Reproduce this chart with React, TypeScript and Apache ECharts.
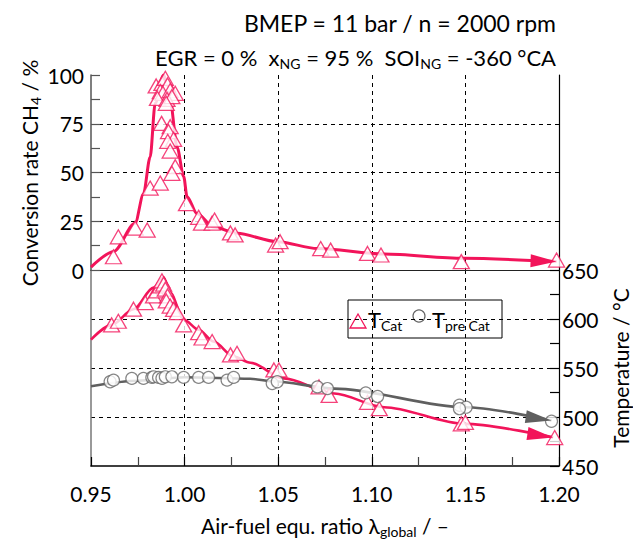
import React, { useEffect, useRef } from 'react';
import * as echarts from 'echarts';

const RED = '#f2145a';
const GREY = '#5f5f5f';
const FONT = 'Lato';

// x-axis ticks
const lambdaTicks = ['0.95', '1.00', '1.05', '1.10', '1.15', '1.20'];

// CH4 conversion rate, measured points
const convLambda = [0.962, 0.9646, 0.9736, 0.98, 0.9816, 0.987, 0.9848, 0.9879, 0.9897, 0.9909, 0.987, 0.9884, 0.9923, 0.995, 0.9855, 0.9906, 0.9932, 0.9902, 0.9877, 0.9923, 0.9914, 0.9941, 0.991, 0.9923, 0.995, 0.9932, 1.001, 1.0075, 1.009, 1.0147, 1.016, 1.0245, 1.027, 1.0486, 1.051, 1.0727, 1.078, 1.0977, 1.1049, 1.1478, 1.1987];
const convValue = [6.8, 17, 21.5, 20.5, 42, 44.6, 94.4, 95.7, 98.3, 94.9, 91.5, 90.6, 92, 90.6, 88, 87.5, 88.9, 85.5, 75.2, 73.5, 71, 67, 66, 61, 53, 49.6, 34, 27, 24, 24, 25.6, 19, 18, 12.8, 14.5, 11, 10.2, 8.5, 7.7, 4.3, 5.1];

// CH4 conversion rate, trend curve
const convFitLambda = [0.95, 0.962, 0.9736, 0.978, 0.9816, 0.9843, 0.9888, 0.9923, 0.996, 0.9995, 1.0013, 1.0066, 1.0155, 1.028, 1.0495, 1.071, 1.1065, 1.149, 1.1987];
const convFitValue = [1.5, 9.4, 24, 39, 58, 85.5, 100, 87, 63, 48, 37.6, 29, 22, 18.8, 14.5, 11, 8.2, 6, 4.3];

// T_Cat measured points
const tCatLambda = [0.961, 0.9646, 0.9727, 0.979, 0.9834, 0.9852, 0.987, 0.9879, 0.9888, 0.9897, 0.9909, 0.9902, 0.9923, 0.9941, 0.996, 0.9995, 1.0075, 1.0093, 1.0147, 1.0245, 1.028, 1.0477, 1.0504, 1.0718, 1.0772, 1.0977, 1.104, 1.1478, 1.15, 1.1977];
const tCatValue = [594, 597.7, 610, 616.7, 623.5, 628.7, 633.8, 639, 635.6, 630.4, 623.5, 618.4, 613.2, 609.8, 606.4, 594, 586, 580.6, 577, 563.4, 565, 548, 548, 530.7, 522, 515, 508.5, 493, 494.6, 479];

// T_Cat trend curve
const tCatFitLambda = [0.95, 0.961, 0.9727, 0.9834, 0.9888, 0.9923, 0.9995, 1.0075, 1.0155, 1.0262, 1.0352, 1.053, 1.08, 1.1066, 1.1495, 1.1969];
const tCatFitValue = [578.9, 594, 610, 632, 642.5, 627, 599.5, 589, 577, 561.7, 555.4, 539.4, 524, 510, 493, 479.2];

// T_pre Cat measured points
const tPreLambda = [0.9602, 0.962, 0.9718, 0.978, 0.9825, 0.9834, 0.9861, 0.9879, 0.9897, 0.9932, 0.9995, 1.0075, 1.0128, 1.0227, 1.0262, 1.0468, 1.0495, 1.071, 1.0763, 1.0968, 1.1031, 1.1468, 1.1504, 1.1468, 1.196];
const tPreValue = [536, 537.6, 539.4, 539.4, 540.4, 541, 540.4, 539.5, 541, 541, 540.4, 540.4, 540.4, 537.6, 540.4, 534.2, 536, 530.7, 529, 524.6, 521, 512, 510, 508.5, 495.7];

// T_pre Cat trend curve
const tPreFitLambda = [0.95, 0.975, 1.0, 1.035, 1.047, 1.08, 1.1495, 1.196];
const tPreFitValue = [531.4, 537, 540.5, 539, 536.5, 529, 510, 496.4];

const zip = (xs: number[], ys: number[]) => xs.map((x, i) => [x, ys[i]]);

const dashed = { show: true, lineStyle: { color: '#000', type: [4, 4] as any, width: 1 } };
const subRich = {
  s: { fontSize: 14, fontFamily: FONT, padding: [12, 0, 0, 0], fill: '#000', color: '#000' },
};

const ARROW_W = 13;
const ARROW_L = 26;

export default function App() {
  const ref = useRef<HTMLDivElement>(null);
  useEffect(() => {
    if (!ref.current) return;
    const chart = echarts.init(ref.current, null, { renderer: 'svg' });
    const option: any = {
      animation: false,
      textStyle: { fontFamily: FONT },
      grid: [
        { left: 91, right: 74, top: 75, height: 195 },
        { left: 91, right: 74, top: 270, height: 196 },
      ],
      xAxis: [
        {
          gridIndex: 0, type: 'value', position: 'top', min: 0.95, max: 1.2, interval: 0.05,
          axisLine: { show: true, lineStyle: { color: '#222', width: 1.2 } },
          axisTick: { show: false }, axisLabel: { show: false },
          splitLine: { ...dashed, showMinLine: false, showMaxLine: false },
        },
        {
          gridIndex: 1, type: 'value', position: 'bottom', min: 0.95, max: 1.2, interval: 0.05,
          axisLine: { show: true, lineStyle: { color: '#000', width: 1.5 } },
          axisTick: { show: true, inside: true, length: 9, lineStyle: { color: '#000', width: 1.2 } },
          minorTick: { show: true, splitNumber: 2, length: 9, lineStyle: { color: '#444', width: 1.2 } },
          axisLabel: {
            fontSize: 21, color: '#000', fontFamily: FONT, margin: 17,
            formatter: (v: number) => lambdaTicks.find((t) => Math.abs(parseFloat(t) - v) < 1e-6) ?? v.toFixed(2),
          },
          splitLine: { ...dashed, showMinLine: false, showMaxLine: false },
        },
      ],
      yAxis: [
        {
          gridIndex: 0, type: 'value', position: 'left', min: 0, max: 100, interval: 25,
          axisLine: { show: true, lineStyle: { color: '#555', width: 1.5 } },
          axisTick: { show: true, inside: true, length: 9, lineStyle: { color: '#555', width: 1.2 } },
          minorTick: { show: true, splitNumber: 2, length: 9, lineStyle: { color: '#555', width: 1.2 } },
          axisLabel: { fontSize: 21, color: '#000', fontFamily: FONT, margin: 7 },
          splitLine: { ...dashed, showMinLine: true, showMaxLine: false },
        },
        {
          gridIndex: 0, type: 'value', position: 'right', min: 0, max: 100,
          axisLine: { show: true, lineStyle: { color: '#000', width: 1.2 } },
          axisTick: { show: false }, axisLabel: { show: false }, splitLine: { show: false },
        },
        {
          gridIndex: 1, type: 'value', position: 'right', min: 450, max: 650, interval: 50,
          axisLine: { show: true, lineStyle: { color: '#000', width: 1.2 } },
          axisTick: { show: true, inside: true, length: 9, lineStyle: { color: '#000', width: 1.2 } },
          minorTick: { show: true, splitNumber: 2, length: 9, lineStyle: { color: '#000', width: 1.2 } },
          axisLabel: { fontSize: 21, color: '#000', fontFamily: FONT, margin: 3 },
          splitLine: { ...dashed, showMinLine: false, showMaxLine: true },
        },
        {
          gridIndex: 1, type: 'value', position: 'left', min: 450, max: 650,
          axisLine: { show: true, lineStyle: { color: '#777', width: 1.5 } },
          axisTick: { show: false }, axisLabel: { show: false }, splitLine: { show: false },
        },
      ],
      series: [
        {
          id: 'convFit', name: 'conv fit', type: 'line', xAxisIndex: 0, yAxisIndex: 0, data: zip(convFitLambda, convFitValue),
          smooth: 0.3, smoothMonotone: 'x', showSymbol: false, lineStyle: { color: RED, width: 3 }, z: 2,
        },
        {
          name: 'CH4', type: 'scatter', xAxisIndex: 0, yAxisIndex: 0, data: zip(convLambda, convValue),
          symbol: 'triangle', symbolSize: [16, 14], itemStyle: { color: '#fff', borderColor: RED, borderWidth: 1.3 }, z: 3,
        },
        {
          id: 'tCatFit', name: 'T_Cat fit', type: 'line', xAxisIndex: 1, yAxisIndex: 2, data: zip(tCatFitLambda, tCatFitValue),
          smooth: 0.3, smoothMonotone: 'x', showSymbol: false, lineStyle: { color: RED, width: 2.6 }, z: 2,
        },
        {
          id: 'tPreFit', name: 'T_pre fit', type: 'line', xAxisIndex: 1, yAxisIndex: 2, data: zip(tPreFitLambda, tPreFitValue),
          smooth: 0.3, smoothMonotone: 'x', showSymbol: false, lineStyle: { color: GREY, width: 2.6 }, z: 2,
        },
        {
          name: 'T_Cat', type: 'scatter', xAxisIndex: 1, yAxisIndex: 2, data: zip(tCatLambda, tCatValue),
          symbol: 'triangle', symbolSize: [16, 14], itemStyle: { color: '#fff', borderColor: RED, borderWidth: 1.3 }, z: 3,
        },
        {
          name: 'T_pre Cat', type: 'scatter', xAxisIndex: 1, yAxisIndex: 2, data: zip(tPreLambda, tPreValue),
          symbol: 'circle', symbolSize: 12, itemStyle: { color: '#fff', borderColor: '#666', borderWidth: 1.2 }, z: 4,
        },
      ],
      graphic: [
        {
          type: 'text', x: 556, y: 23, z: 10,
          style: { text: 'BMEP = 11 bar / n = 2000 rpm', font: `23px ${FONT}`, fill: '#000', align: 'right', verticalAlign: 'middle' },
        },
        {
          type: 'text', x: 556, y: 57, z: 10,
          style: {
            text: 'EGR = 0 %  x{s|NG} = 95 %  SOI{s|NG} = -360 °CA', font: `22px ${FONT}`, fill: '#000',
            align: 'right', verticalAlign: 'middle', rich: subRich,
          },
        },
        {
          type: 'text', x: 29, y: 173, rotation: Math.PI / 2, z: 10,
          style: {
            text: 'Conversion rate CH{s|4} / %', font: `21px ${FONT}`, fill: '#000',
            align: 'center', verticalAlign: 'middle', rich: subRich,
          },
        },
        {
          type: 'text', x: 620, y: 368, rotation: Math.PI / 2, z: 10,
          style: { text: 'Temperature / °C', font: `21px ${FONT}`, fill: '#000', align: 'center', verticalAlign: 'middle' },
        },
        {
          type: 'text', x: 325, y: 525, z: 10,
          style: {
            text: 'Air-fuel equ. ratio λ{s|global} / –', font: `21px ${FONT}`, fill: '#000',
            align: 'center', verticalAlign: 'middle', rich: subRich,
          },
        },
        {
          type: 'group', z: 20,
          children: [
            { type: 'rect', shape: { x: 348, y: 300, width: 154, height: 38 }, style: { fill: '#fff', stroke: '#000', lineWidth: 1 } },
            { type: 'polygon', shape: { points: [[358, 314], [366, 328], [350, 328]] }, style: { fill: '#fff', stroke: RED, lineWidth: 1.3 } },
            {
              type: 'text', x: 368, y: 319,
              style: { text: 'T{s|Cat}', font: `22px ${FONT}`, fill: '#000', align: 'left', verticalAlign: 'middle', rich: subRich },
            },
            { type: 'circle', shape: { cx: 419, cy: 316, r: 6 }, style: { fill: '#fff', stroke: '#666', lineWidth: 1.2 } },
            {
              type: 'text', x: 432, y: 319,
              style: { text: 'T{s|pre Cat}', font: `22px ${FONT}`, fill: '#000', align: 'left', verticalAlign: 'middle', rich: subRich },
            },
          ],
        },
      ],
    };
    chart.setOption(option);

    // arrow heads at the end of each trend curve, oriented with the last segment (in pixels)
    const arrowMark = (xs: number[], ys: number[], xi: number, yi: number, color: string) => {
      const n = xs.length - 1;
      const finder = { xAxisIndex: xi, yAxisIndex: yi };
      const p1 = chart.convertToPixel(finder, [xs[n], ys[n]]) as number[];
      const p0 = chart.convertToPixel(finder, [xs[n - 1], ys[n - 1]]) as number[];
      const dx = p1[0] - p0[0], dy = p1[1] - p0[1];
      const len = Math.hypot(dx, dy);
      const ux = dx / len, uy = dy / len;
      const c = [p1[0] - ux * ARROW_L / 2, p1[1] - uy * ARROW_L / 2];
      const coord = chart.convertFromPixel(finder, c) as number[];
      const angle = (Math.atan2(-uy, ux) * 180) / Math.PI - 90;
      return {
        symbol: 'triangle', symbolSize: [ARROW_W, ARROW_L], silent: true, z: 6,
        label: { show: false },
        data: [{ coord, symbolRotate: angle, itemStyle: { color } }],
      };
    };
    chart.setOption({
      series: [
        { id: 'convFit', markPoint: arrowMark(convFitLambda, convFitValue, 0, 0, RED) },
        { id: 'tCatFit', markPoint: arrowMark(tCatFitLambda, tCatFitValue, 1, 2, RED) },
        { id: 'tPreFit', markPoint: arrowMark(tPreFitLambda, tPreFitValue, 1, 2, GREY) },
      ],
    });
    return () => chart.dispose();
  }, []);
  return <div ref={ref} style={{ width: 633, height: 540, position: 'absolute', left: 0, top: 0 }} />;
}
